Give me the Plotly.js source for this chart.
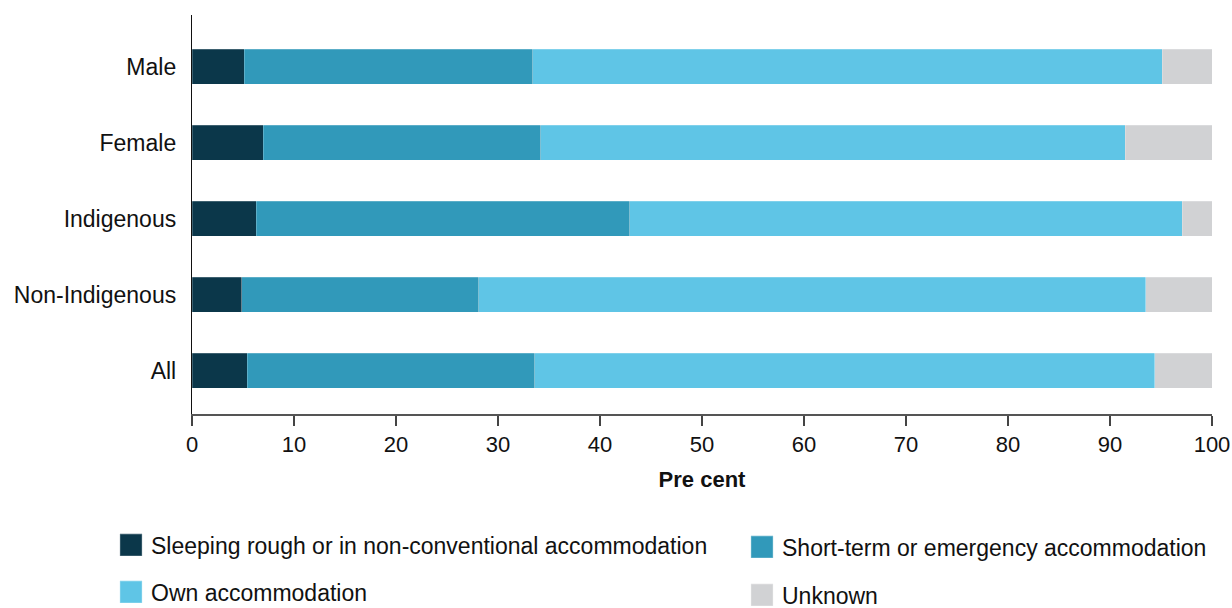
<!DOCTYPE html>
<html>
<head>
<meta charset="utf-8">
<script src="https://cdn.plot.ly/plotly-3.0.1.min.js"></script>
<style>body{margin:0;padding:0;background:#fff;} #chart{width:1232px;height:608px;}</style>
</head>
<body>
<div id="chart"></div>
<script>
const categories = ["Male", "Female", "Indigenous", "Non-Indigenous", "All"];
const sleepingRough = [5.1, 7.0, 6.3, 4.9, 5.4];
const shortTerm = [28.3, 27.2, 36.6, 23.2, 28.2];
const ownAccommodation = [61.7, 57.3, 54.2, 65.4, 60.8];
const unknown = [4.9, 8.5, 2.9, 6.5, 5.6];
const seriesNames = ["Sleeping rough or in non-conventional accommodation", "Short-term or emergency accommodation", "Own accommodation", "Unknown"];
const xTicks = [0, 10, 20, 30, 40, 50, 60, 70, 80, 90, 100];

const colors = ["#0b374a", "#3199ba", "#5fc5e6", "#d1d2d4"];
const seriesData = [sleepingRough, shortTerm, ownAccommodation, unknown];
const legendIds = ["legend", "legend2", "legend3", "legend4"];
const FONT = "Liberation Sans, Arial, sans-serif";

const traces = seriesData.map((vals, i) => ({
  type: "bar",
  orientation: "h",
  y: categories,
  x: vals,
  name: seriesNames[i],
  legend: legendIds[i],
  width: 0.46,
  marker: { color: colors[i], line: { color: "rgba(255,255,255,0.35)", width: 0.6 } },
  hoverinfo: "x+name"
}));

const legendCommon = {
  orientation: "h",
  xref: "container",
  yref: "container",
  xanchor: "left",
  yanchor: "middle",
  font: { family: FONT, size: 23, color: "#111" },
  bgcolor: "rgba(0,0,0,0)",
  traceorder: "normal"
};
function legendAt(xLeft, yCenter) {
  return Object.assign({}, legendCommon, { x: xLeft / 1232, y: 1 - yCenter / 608 });
}

const layout = {
  width: 1232,
  height: 608,
  margin: { l: 192, r: 20, t: 15, b: 194 },
  barmode: "stack",
  paper_bgcolor: "#fff",
  plot_bgcolor: "#fff",
  font: { family: FONT, size: 22, color: "#111" },
  showlegend: true,
  xaxis: {
    range: [0, 100],
    tickvals: xTicks,
    ticktext: xTicks.map(String),
    ticks: "outside",
    ticklen: 10,
    tickwidth: 1.2,
    tickcolor: "#444",
    showline: true,
    linecolor: "#555",
    linewidth: 1.5,
    showgrid: false,
    zeroline: false,
    tickfont: { family: FONT, size: 22, color: "#111" },
    title: { text: "Pre cent", font: { family: FONT, size: 22, color: "#111", weight: "bold" }, standoff: 15 },
    automargin: false,
    fixedrange: true
  },
  yaxis: {
    type: "category",
    categoryorder: "array",
    categoryarray: categories,
    range: [4.57, -0.68],
    showline: true,
    linecolor: "#111",
    linewidth: 1.2,
    ticks: "",
    ticklabelstandoff: 10,
    showgrid: false,
    zeroline: false,
    tickfont: { family: FONT, size: 23, color: "#111" },
    automargin: false,
    fixedrange: true
  },
  legend: legendAt(111, 545),
  legend2: legendAt(742, 547),
  legend3: legendAt(111, 592),
  legend4: legendAt(742, 595)
};

function enlargeSymbols() {
  document.querySelectorAll(".legendpoints path").forEach(p => {
    if (!p.dataset.orig) p.dataset.orig = p.getAttribute("transform") || "";
    p.setAttribute("transform", p.dataset.orig + " scale(1.85)");
  });
}

Plotly.newPlot("chart", traces, layout, { displayModeBar: false, staticPlot: true }).then(gd => {
  enlargeSymbols();
  gd.on("plotly_afterplot", enlargeSymbols);
});
</script>
</body>
</html>
